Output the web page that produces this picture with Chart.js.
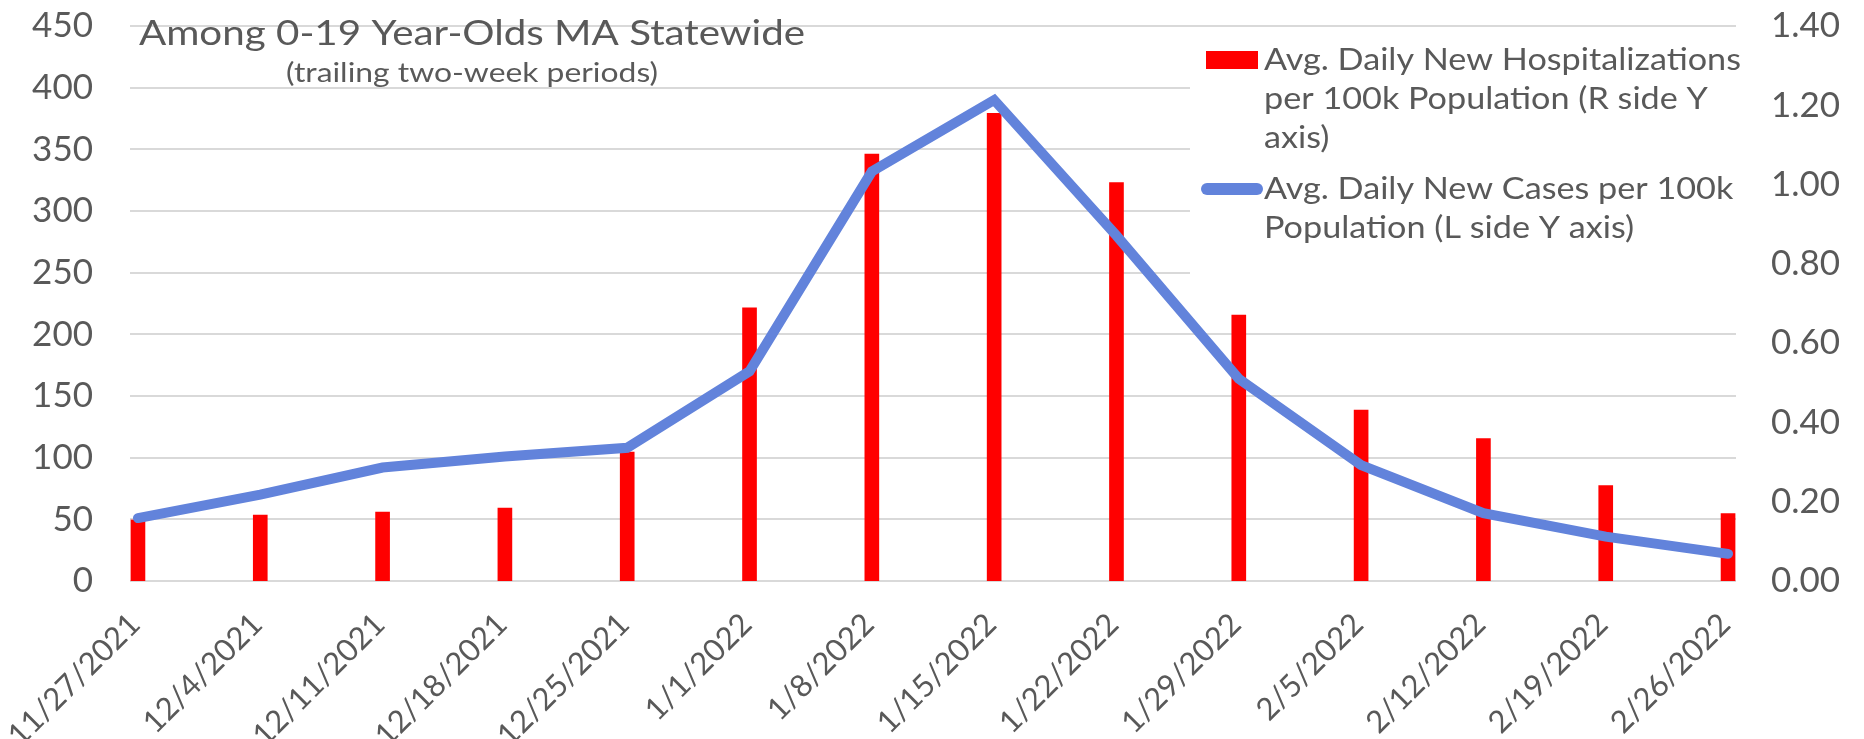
<!DOCTYPE html>
<html>
<head>
<meta charset="utf-8">
<script src="https://cdn.jsdelivr.net/npm/chart.js@4.4.0/dist/chart.umd.min.js"></script>
<style>
html, body { margin: 0; padding: 0; background: #fff; }
#wrap { width: 1864px; height: 739px; }
</style>
</head>
<body>
<div id="wrap"><canvas id="pediatricChart" width="1864" height="739"></canvas></div>
<script>
// data
var weeks = ['11/27/2021', '12/4/2021', '12/11/2021', '12/18/2021', '12/25/2021', '1/1/2022', '1/8/2022',
             '1/15/2022', '1/22/2022', '1/29/2022', '2/5/2022', '2/12/2022', '2/19/2022', '2/26/2022'];
var hospPer100k = [0.154, 0.166, 0.174, 0.184, 0.325, 0.689, 1.077, 1.180, 1.005, 0.671, 0.431, 0.359, 0.241, 0.170];
var casesPer100k = [51, 70, 92, 101, 108, 170, 332, 390, 280, 164, 94, 55, 36, 22];
var casesAxis = { min: 0, max: 450, step: 50 };
var hospAxis = { min: 0, max: 1.4, step: 0.2 };
var titleText = 'Among 0-19 Year-Olds MA Statewide';
var subtitleText = '(trailing two-week periods)';
var hospLegend = ['Avg. Daily New Hospitalizations', 'per 100k Population (R side Y', 'axis)'];
var casesLegend = ['Avg. Daily New Cases per 100k', 'Population (L side Y axis)'];

var FONT = 'Lato, "Open Sans", sans-serif';
var TEXT = '#595959';
var GRID = '#d9d9d9';
var RED = '#ff0000';
var BLUE = '#6283db';

function toPoints(arr) {
    return arr.map(function(v, i) { return { x: i, y: v }; });
}

// the original font is wider than Lato, so stretch overlay text sideways
function wideText(ctx, text, x, y, sx) {
    ctx.save();
    ctx.translate(x, y);
    ctx.scale(sx, 1);
    ctx.fillText(text, 0, 0);
    ctx.restore();
}

// title, subtitle and the boxed legend sit inside the plot area
var overlay = {
    id: 'overlay',
    beforeDatasetsDraw: function(chart) {
        var ctx = chart.ctx, a = chart.chartArea;
        ctx.save();
        ctx.fillStyle = '#fff';
        ctx.fillRect(1190, a.top + 6, a.right - 1190 + 2, 270);
        ctx.restore();
    },
    afterDraw: function(chart) {
        var ctx = chart.ctx, sx;
        ctx.save();
        ctx.fillStyle = TEXT;
        ctx.textAlign = 'left';
        ctx.textBaseline = 'alphabetic';

        ctx.font = '35px ' + FONT;
        wideText(ctx, titleText, 139, 45, 666 / ctx.measureText(titleText).width);
        ctx.font = '26px ' + FONT;
        wideText(ctx, subtitleText, 286, 82, 372 / ctx.measureText(subtitleText).width);

        ctx.font = '30px ' + FONT;
        sx = 477 / ctx.measureText(hospLegend[0]).width;
        ctx.fillStyle = RED;
        ctx.fillRect(1206, 51, 52, 18);
        ctx.fillStyle = TEXT;
        hospLegend.forEach(function(t, i) { wideText(ctx, t, 1264, 70 + i * 39, sx); });

        ctx.strokeStyle = BLUE;
        ctx.lineWidth = 12;
        ctx.lineCap = 'round';
        ctx.beginPath();
        ctx.moveTo(1207, 189);
        ctx.lineTo(1257, 189);
        ctx.stroke();
        casesLegend.forEach(function(t, i) { wideText(ctx, t, 1264, 199 + i * 39, sx); });
        ctx.restore();
    }
};

function fixWidth(w) {
    return function(scale) {
        scale.width = w;
        scale.paddingTop = 0;
        scale.paddingBottom = 0;
    };
}

var ctx = document.getElementById('pediatricChart').getContext('2d');
var chart = new Chart(ctx, {
    data: {
        datasets: [{
            type: 'line',
            label: casesLegend.join(' '),
            data: toPoints(casesPer100k),
            yAxisID: 'y',
            borderColor: BLUE,
            borderWidth: 10,
            borderCapStyle: 'round',
            borderJoinStyle: 'miter',
            pointRadius: 0,
            tension: 0,
            clip: false,
            order: 0
        }, {
            type: 'bar',
            label: hospLegend.join(' '),
            data: toPoints(hospPer100k),
            yAxisID: 'y1',
            backgroundColor: RED,
            barThickness: 14,
            order: 1
        }]
    },
    options: {
        responsive: false,
        animation: false,
        devicePixelRatio: 1,
        layout: { padding: { top: 26, left: 0, right: 0, bottom: 0 } },
        plugins: {
            legend: { display: false },
            tooltip: { enabled: false }
        },
        scales: {
            x: {
                type: 'linear',
                offset: false,
                min: -0.065,
                max: weeks.length - 1 + 0.065,
                grid: { display: false, offset: false },
                border: { display: false },
                afterBuildTicks: function(scale) {
                    scale.ticks = weeks.map(function(w, i) { return { value: i }; });
                },
                afterFit: function(scale) {
                    scale.height = 158;
                    scale.paddingLeft = 0;
                    scale.paddingRight = 0;
                },
                ticks: {
                    autoSkip: false,
                    maxRotation: 45,
                    minRotation: 45,
                    padding: 17,
                    labelOffset: -3,
                    color: TEXT,
                    font: { family: FONT, size: 31 },
                    callback: function(v) { return weeks[v]; }
                }
            },
            y: {
                position: 'left',
                min: casesAxis.min,
                max: casesAxis.max,
                grid: { color: GRID, lineWidth: 2, drawTicks: false },
                border: { display: false },
                afterFit: fixWidth(130),
                ticks: {
                    stepSize: casesAxis.step,
                    padding: 37,
                    color: TEXT,
                    font: { family: FONT, size: 35 }
                }
            },
            y1: {
                position: 'right',
                min: hospAxis.min,
                max: hospAxis.max,
                grid: { display: false, drawTicks: false },
                border: { display: false },
                afterFit: fixWidth(128),
                ticks: {
                    stepSize: hospAxis.step,
                    padding: 35,
                    color: TEXT,
                    font: { family: FONT, size: 35 },
                    callback: function(v) { return v.toFixed(2); }
                }
            }
        }
    },
    plugins: [overlay]
});
</script>
</body>
</html>
